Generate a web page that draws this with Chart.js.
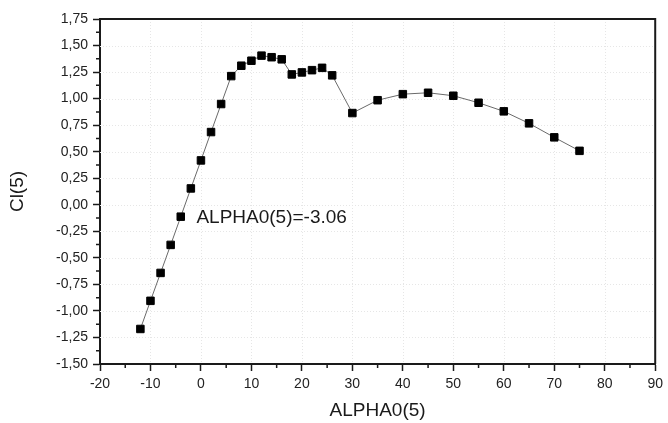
<!DOCTYPE html>
<html>
<head>
<meta charset="utf-8">
<title>Cl(5) vs ALPHA0(5)</title>
<script src="https://cdn.jsdelivr.net/npm/chart.js@4.4.0/dist/chart.umd.min.js"></script>
<style>
  html, body { margin: 0; padding: 0; background: #fff; }
  canvas { display: block; }
</style>
</head>
<body>
<canvas id="clChart" width="668" height="423"></canvas>
<script>
// ===== Data =====
const alpha = [-12, -10, -8, -6, -4, -2, 0, 2, 4, 6, 8, 10, 12, 14, 16, 18, 20, 22, 24, 26,
               30, 35, 40, 45, 50, 55, 60, 65, 70, 75];
const cl = [-1.17, -0.905, -0.642, -0.378, -0.112, 0.154, 0.418, 0.685, 0.949, 1.212,
            1.31, 1.357, 1.405, 1.39, 1.37, 1.228, 1.247, 1.268, 1.29, 1.219,
            0.864, 0.985, 1.042, 1.055, 1.027, 0.961, 0.88, 0.767, 0.635, 0.508];

const xTicks = [-20, -10, 0, 10, 20, 30, 40, 50, 60, 70, 80, 90];
const yTicks = [-1.5, -1.25, -1, -0.75, -0.5, -0.25, 0, 0.25, 0.5, 0.75, 1, 1.25, 1.5, 1.75];

const noteText = "ALPHA0(5)=-3.06";
const noteAt = [-0.9, -0.175]; // baseline-left of the note, in data units

const FONT = "'Liberation Sans', Arial, sans-serif";
const INK = "#1a1a1a";

// ===== Helpers =====
const fmtComma = (v) => v.toFixed(2).replace(".", ",");
const mids = (arr) => arr.slice(0, -1).map((v, i) => (v + arr[i + 1]) / 2);

// dotted grid, box top/right edges, minor ticks and the text note
const boxExtras = {
  id: "boxExtras",
  beforeDatasetsDraw(chart) {
    const { ctx, chartArea: a, scales: { x, y } } = chart;
    ctx.save();
    ctx.strokeStyle = "#e6e6e6";
    ctx.lineWidth = 1;
    ctx.setLineDash([1, 2]);
    ctx.beginPath();
    xTicks.slice(1, -1).forEach((v) => {
      const px = Math.round(x.getPixelForValue(v)) + 0.5;
      ctx.moveTo(px, a.top); ctx.lineTo(px, a.bottom);
    });
    yTicks.slice(1, -1).forEach((v) => {
      const py = Math.round(y.getPixelForValue(v)) + 0.5;
      ctx.moveTo(a.left, py); ctx.lineTo(a.right, py);
    });
    ctx.stroke();
    ctx.restore();
  },
  afterDraw(chart) {
    const { ctx, chartArea: a, scales: { x, y } } = chart;
    ctx.save();
    ctx.strokeStyle = INK;

    ctx.lineWidth = 2;
    ctx.beginPath();
    ctx.moveTo(a.left, a.top);
    ctx.lineTo(a.right, a.top);
    ctx.lineTo(a.right, a.bottom);
    ctx.stroke();

    ctx.lineWidth = 1.5;
    ctx.beginPath();
    mids(xTicks).forEach((v) => {
      const px = x.getPixelForValue(v);
      ctx.moveTo(px, a.bottom); ctx.lineTo(px, a.bottom + 4);
    });
    mids(yTicks).forEach((v) => {
      const py = y.getPixelForValue(v);
      ctx.moveTo(a.left, py); ctx.lineTo(a.left - 4, py);
    });
    ctx.stroke();

    ctx.fillStyle = INK;
    ctx.font = `19px ${FONT}`;
    ctx.textAlign = "left";
    ctx.textBaseline = "alphabetic";
    ctx.fillText(noteText, x.getPixelForValue(noteAt[0]), y.getPixelForValue(noteAt[1]));
    ctx.restore();
  }
};

// ===== Chart =====
const axisCommon = {
  grid: {
    drawOnChartArea: false,
    drawTicks: true,
    tickLength: 7,
    tickWidth: 1.5,
    tickColor: INK,
    color: INK
  },
  border: { color: INK, width: 2 }
};

new Chart(document.getElementById("clChart").getContext("2d"), {
  type: "scatter",
  data: {
    datasets: [{
      label: "Cl(5)",
      data: alpha.map((a, i) => ({ x: a, y: cl[i] })),
      showLine: true,
      borderColor: "#6a6a6a",
      borderWidth: 1,
      pointStyle: "rect",
      pointRadius: 5.3,
      pointBorderWidth: 1,
      pointBackgroundColor: "#000",
      pointBorderColor: "#000"
    }]
  },
  plugins: [boxExtras],
  options: {
    responsive: false,
    animation: false,
    layout: { padding: { top: 19, right: 9, left: 0, bottom: 0 } },
    plugins: {
      legend: { display: false },
      tooltip: { enabled: false }
    },
    scales: {
      x: {
        ...axisCommon,
        type: "linear",
        min: xTicks[0],
        max: xTicks[xTicks.length - 1],
        afterBuildTicks: (s) => { s.ticks = xTicks.map((v) => ({ value: v })); },
        afterFit: (s) => { s.height = 59; },
        ticks: {
          autoSkip: false,
          maxRotation: 0,
          padding: 5,
          color: "#222",
          font: { family: FONT, size: 14 },
          callback: (v) => String(v)
        },
        title: {
          display: true,
          text: "ALPHA0(5)",
          color: INK,
          font: { family: FONT, size: 19 },
          padding: { top: 0, bottom: 1 }
        }
      },
      y: {
        ...axisCommon,
        type: "linear",
        min: yTicks[0],
        max: yTicks[yTicks.length - 1],
        afterBuildTicks: (s) => { s.ticks = yTicks.map((v) => ({ value: v })); },
        afterFit: (s) => { s.width = 100; },
        ticks: {
          autoSkip: false,
          padding: 5,
          color: "#222",
          font: { family: FONT, size: 14 },
          callback: (v) => fmtComma(v)
        },
        title: {
          display: true,
          text: "Cl(5)",
          color: INK,
          font: { family: FONT, size: 19 },
          padding: { top: 6, bottom: 0 }
        }
      }
    }
  }
});
</script>
</body>
</html>
